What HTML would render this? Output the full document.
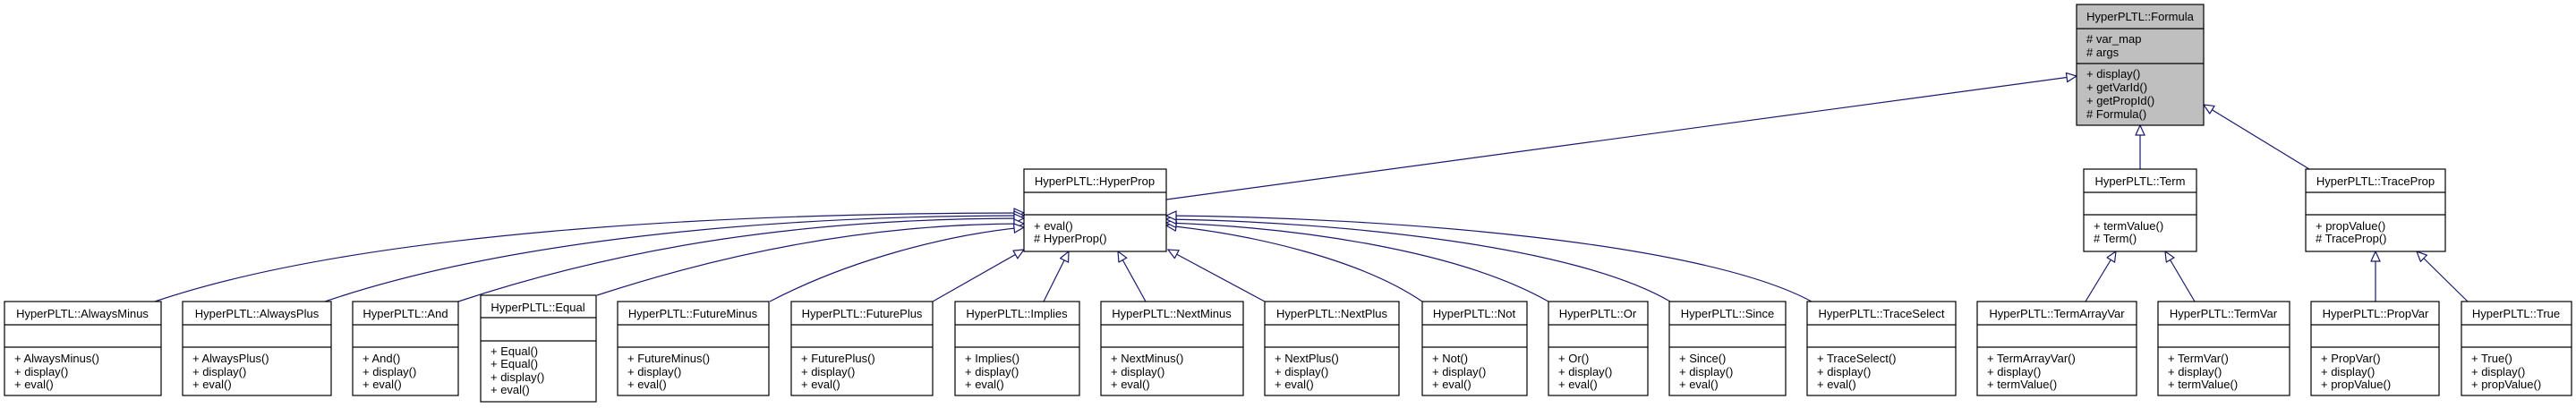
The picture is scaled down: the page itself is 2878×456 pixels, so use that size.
<!DOCTYPE html>
<html><head><meta charset="utf-8"><style>
html,body{margin:0;padding:0;background:#fff;}
svg{display:block;}
text{font-family:"Liberation Sans",Arial,sans-serif;font-size:13px;fill:#000;}
.b{fill:#fff;stroke:#000;stroke-width:1.2;}
.l{stroke:#000;stroke-width:1.2;}
.e{fill:none;stroke:#191970;stroke-width:1.2;}
</style></head><body>
<svg width="2878" height="456" viewBox="0 0 2878 456" xmlns="http://www.w3.org/2000/svg">
<defs>
<marker id="a" markerUnits="userSpaceOnUse" markerWidth="14" markerHeight="12" refX="12" refY="5.5" orient="auto">
<path d="M1,0.5 L12,5.5 L1,10.5 Z" fill="#fff" stroke="#191970" stroke-width="1.2"/>
</marker>
</defs>

<!-- edges -->
<g class="e">
<path marker-end="url(#a)" d="M173,337 C400,260 800,238 1144,238"/>
<path marker-end="url(#a)" d="M363,337 C560,270 850,241 1144,241"/>
<path marker-end="url(#a)" d="M512,337 C700,275 900,244 1144,244"/>
<path marker-end="url(#a)" d="M667,330 C820,280 980,250 1144,250"/>
<path marker-end="url(#a)" d="M860,337 C950,290 1060,262 1144,254"/>
<path marker-end="url(#a)" d="M1042,337 L1144,279"/>
<path marker-end="url(#a)" d="M1166,337 L1194,281"/>
<path marker-end="url(#a)" d="M1280,337 L1249,281"/>
<path marker-end="url(#a)" d="M1413,337 L1305,279"/>
<path marker-end="url(#a)" d="M1589,337 C1520,290 1400,262 1303,252"/>
<path marker-end="url(#a)" d="M1730,337 C1630,280 1450,254 1303,249"/>
<path marker-end="url(#a)" d="M1866,337 C1760,275 1500,248 1303,245"/>
<path marker-end="url(#a)" d="M2024,337 C1900,270 1550,243 1303,241"/>
<path marker-end="url(#a)" d="M1303,223 L2320,85"/>
<path marker-end="url(#a)" d="M2391,189 L2391,140"/>
<path marker-end="url(#a)" d="M2580,189 L2462,117"/>
<path marker-end="url(#a)" d="M2330,337 L2364,281"/>
<path marker-end="url(#a)" d="M2452,337 L2419,281"/>
<path marker-end="url(#a)" d="M2654,337 L2654,281"/>
<path marker-end="url(#a)" d="M2757,337 L2700,281"/>
</g>

<!-- Formula -->
<rect x="2320" y="5" width="142" height="135" fill="#bfbfbf" stroke="#000" stroke-width="1.2"/>
<line class="l" x1="2320" y1="32" x2="2462" y2="32"/><line class="l" x1="2320" y1="71" x2="2462" y2="71"/>
<text x="2391" y="23" text-anchor="middle">HyperPLTL::Formula</text>
<text x="2331" y="48"># var_map</text><text x="2331" y="63"># args</text>
<text x="2331" y="87">+ display()</text><text x="2331" y="102">+ getVarId()</text><text x="2331" y="117">+ getPropId()</text><text x="2331" y="132"># Formula()</text>

<!-- middle row -->
<g>
<rect class="b" x="1144" y="189" width="159" height="92"/><line class="l" x1="1144" y1="215" x2="1303" y2="215"/><line class="l" x1="1144" y1="240" x2="1303" y2="240"/>
<text x="1223" y="207" text-anchor="middle">HyperPLTL::HyperProp</text><text x="1155" y="257">+ eval()</text><text x="1155" y="271"># HyperProp()</text>
<rect class="b" x="2328" y="189" width="126" height="92"/><line class="l" x1="2328" y1="215" x2="2454" y2="215"/><line class="l" x1="2328" y1="240" x2="2454" y2="240"/>
<text x="2391" y="207" text-anchor="middle">HyperPLTL::Term</text><text x="2339" y="257">+ termValue()</text><text x="2339" y="271"># Term()</text>
<rect class="b" x="2576" y="189" width="156" height="92"/><line class="l" x1="2576" y1="215" x2="2732" y2="215"/><line class="l" x1="2576" y1="240" x2="2732" y2="240"/>
<text x="2654" y="207" text-anchor="middle">HyperPLTL::TraceProp</text><text x="2587" y="257">+ propValue()</text><text x="2587" y="271"># TraceProp()</text>
</g>

<!-- bottom row -->
<g>
<rect class="b" x="5" y="337" width="175" height="105"/><line class="l" x1="5" y1="363" x2="180" y2="363"/><line class="l" x1="5" y1="388" x2="180" y2="388"/>
<text x="92" y="355" text-anchor="middle">HyperPLTL::AlwaysMinus</text><text x="16" y="405">+ AlwaysMinus()</text><text x="16" y="420">+ display()</text><text x="16" y="434">+ eval()</text>

<rect class="b" x="204" y="337" width="166" height="105"/><line class="l" x1="204" y1="363" x2="370" y2="363"/><line class="l" x1="204" y1="388" x2="370" y2="388"/>
<text x="287" y="355" text-anchor="middle">HyperPLTL::AlwaysPlus</text><text x="215" y="405">+ AlwaysPlus()</text><text x="215" y="420">+ display()</text><text x="215" y="434">+ eval()</text>

<rect class="b" x="394" y="337" width="118" height="105"/><line class="l" x1="394" y1="363" x2="512" y2="363"/><line class="l" x1="394" y1="388" x2="512" y2="388"/>
<text x="453" y="355" text-anchor="middle">HyperPLTL::And</text><text x="405" y="405">+ And()</text><text x="405" y="420">+ display()</text><text x="405" y="434">+ eval()</text>

<rect class="b" x="537" y="330" width="129" height="119"/><line class="l" x1="537" y1="355" x2="666" y2="355"/><line class="l" x1="537" y1="381" x2="666" y2="381"/>
<text x="601" y="348" text-anchor="middle">HyperPLTL::Equal</text><text x="548" y="397">+ Equal()</text><text x="548" y="411">+ Equal()</text><text x="548" y="426">+ display()</text><text x="548" y="440">+ eval()</text>

<rect class="b" x="690" y="337" width="169" height="105"/><line class="l" x1="690" y1="363" x2="859" y2="363"/><line class="l" x1="690" y1="388" x2="859" y2="388"/>
<text x="774" y="355" text-anchor="middle">HyperPLTL::FutureMinus</text><text x="701" y="405">+ FutureMinus()</text><text x="701" y="420">+ display()</text><text x="701" y="434">+ eval()</text>

<rect class="b" x="884" y="337" width="158" height="105"/><line class="l" x1="884" y1="363" x2="1042" y2="363"/><line class="l" x1="884" y1="388" x2="1042" y2="388"/>
<text x="963" y="355" text-anchor="middle">HyperPLTL::FuturePlus</text><text x="895" y="405">+ FuturePlus()</text><text x="895" y="420">+ display()</text><text x="895" y="434">+ eval()</text>

<rect class="b" x="1067" y="337" width="139" height="105"/><line class="l" x1="1067" y1="363" x2="1206" y2="363"/><line class="l" x1="1067" y1="388" x2="1206" y2="388"/>
<text x="1136" y="355" text-anchor="middle">HyperPLTL::Implies</text><text x="1078" y="405">+ Implies()</text><text x="1078" y="420">+ display()</text><text x="1078" y="434">+ eval()</text>

<rect class="b" x="1230" y="337" width="159" height="105"/><line class="l" x1="1230" y1="363" x2="1389" y2="363"/><line class="l" x1="1230" y1="388" x2="1389" y2="388"/>
<text x="1309" y="355" text-anchor="middle">HyperPLTL::NextMinus</text><text x="1241" y="405">+ NextMinus()</text><text x="1241" y="420">+ display()</text><text x="1241" y="434">+ eval()</text>

<rect class="b" x="1413" y="337" width="150" height="105"/><line class="l" x1="1413" y1="363" x2="1563" y2="363"/><line class="l" x1="1413" y1="388" x2="1563" y2="388"/>
<text x="1488" y="355" text-anchor="middle">HyperPLTL::NextPlus</text><text x="1424" y="405">+ NextPlus()</text><text x="1424" y="420">+ display()</text><text x="1424" y="434">+ eval()</text>

<rect class="b" x="1589" y="337" width="117" height="105"/><line class="l" x1="1589" y1="363" x2="1706" y2="363"/><line class="l" x1="1589" y1="388" x2="1706" y2="388"/>
<text x="1647" y="355" text-anchor="middle">HyperPLTL::Not</text><text x="1600" y="405">+ Not()</text><text x="1600" y="420">+ display()</text><text x="1600" y="434">+ eval()</text>

<rect class="b" x="1730" y="337" width="111" height="105"/><line class="l" x1="1730" y1="363" x2="1841" y2="363"/><line class="l" x1="1730" y1="388" x2="1841" y2="388"/>
<text x="1785" y="355" text-anchor="middle">HyperPLTL::Or</text><text x="1741" y="405">+ Or()</text><text x="1741" y="420">+ display()</text><text x="1741" y="434">+ eval()</text>

<rect class="b" x="1865" y="337" width="130" height="105"/><line class="l" x1="1865" y1="363" x2="1995" y2="363"/><line class="l" x1="1865" y1="388" x2="1995" y2="388"/>
<text x="1930" y="355" text-anchor="middle">HyperPLTL::Since</text><text x="1876" y="405">+ Since()</text><text x="1876" y="420">+ display()</text><text x="1876" y="434">+ eval()</text>

<rect class="b" x="2019" y="337" width="166" height="105"/><line class="l" x1="2019" y1="363" x2="2185" y2="363"/><line class="l" x1="2019" y1="388" x2="2185" y2="388"/>
<text x="2102" y="355" text-anchor="middle">HyperPLTL::TraceSelect</text><text x="2030" y="405">+ TraceSelect()</text><text x="2030" y="420">+ display()</text><text x="2030" y="434">+ eval()</text>

<rect class="b" x="2209" y="337" width="178" height="105"/><line class="l" x1="2209" y1="363" x2="2387" y2="363"/><line class="l" x1="2209" y1="388" x2="2387" y2="388"/>
<text x="2298" y="355" text-anchor="middle">HyperPLTL::TermArrayVar</text><text x="2220" y="405">+ TermArrayVar()</text><text x="2220" y="420">+ display()</text><text x="2220" y="434">+ termValue()</text>

<rect class="b" x="2411" y="337" width="147" height="105"/><line class="l" x1="2411" y1="363" x2="2558" y2="363"/><line class="l" x1="2411" y1="388" x2="2558" y2="388"/>
<text x="2484" y="355" text-anchor="middle">HyperPLTL::TermVar</text><text x="2422" y="405">+ TermVar()</text><text x="2422" y="420">+ display()</text><text x="2422" y="434">+ termValue()</text>

<rect class="b" x="2582" y="337" width="143" height="105"/><line class="l" x1="2582" y1="363" x2="2725" y2="363"/><line class="l" x1="2582" y1="388" x2="2725" y2="388"/>
<text x="2654" y="355" text-anchor="middle">HyperPLTL::PropVar</text><text x="2593" y="405">+ PropVar()</text><text x="2593" y="420">+ display()</text><text x="2593" y="434">+ propValue()</text>

<rect class="b" x="2750" y="337" width="123" height="105"/><line class="l" x1="2750" y1="363" x2="2873" y2="363"/><line class="l" x1="2750" y1="388" x2="2873" y2="388"/>
<text x="2811" y="355" text-anchor="middle">HyperPLTL::True</text><text x="2761" y="405">+ True()</text><text x="2761" y="420">+ display()</text><text x="2761" y="434">+ propValue()</text>
</g>
</svg>
</body></html>
